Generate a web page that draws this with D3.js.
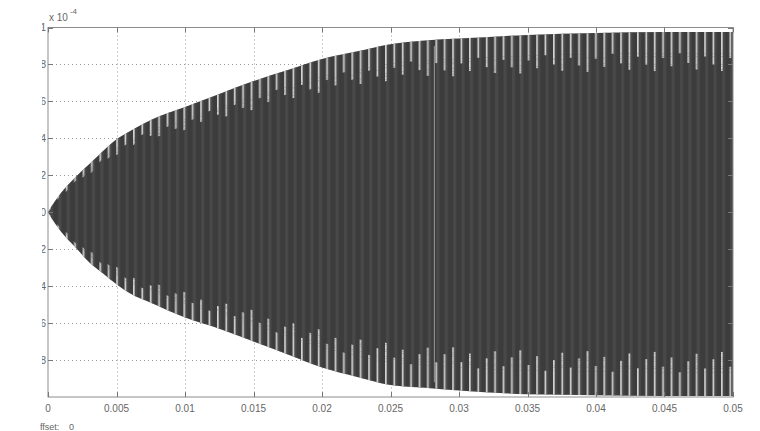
<!DOCTYPE html>
<html>
<head>
<meta charset="utf-8">
<script src="https://cdnjs.cloudflare.com/ajax/libs/d3/7.8.5/d3.min.js"></script>
<style>
body { margin: 0; background: #fff; }
text { font-family: "Liberation Sans", Arial, sans-serif; fill: #666; }
</style>
</head>
<body>
<script>
// time axis (s) and envelope of the signal, in units of 1e-4
var timeS = [0, 0.0005, 0.001, 0.002, 0.003, 0.004, 0.005, 0.006, 0.0075, 0.01, 0.0125, 0.015,
	0.0175, 0.02, 0.0225, 0.025, 0.0275, 0.03, 0.035, 0.04, 0.045, 0.05];
var upperAmp = [0, 0.06, 0.11, 0.19, 0.26, 0.33, 0.395, 0.44, 0.50, 0.57, 0.64, 0.71,
	0.77, 0.83, 0.87, 0.91, 0.93, 0.94, 0.96, 0.97, 0.975, 0.975];
var lowerAmp = [0, -0.06, -0.11, -0.19, -0.27, -0.33, -0.39, -0.44, -0.49, -0.57, -0.63, -0.70,
	-0.77, -0.84, -0.89, -0.935, -0.95, -0.965, -0.985, -0.99, -0.995, -0.995];

var xTicks = [0, 0.005, 0.01, 0.015, 0.02, 0.025, 0.03, 0.035, 0.04, 0.045, 0.05];
var xTickLabels = ["0", "0.005", "0.01", "0.015", "0.02", "0.025", "0.03", "0.035", "0.04", "0.045", "0.05"];
var yTicks = [1, 0.8, 0.6, 0.4, 0.2, 0, -0.2, -0.4, -0.6, -0.8];
var yTickLabels = ["1", "0.8", "0.6", "0.4", "0.2", "0", "-0.2", "-0.4", "-0.6", "-0.8"];

// single bright trace that runs through the whole band
var glitchTimes = [0.0282];

function main() {
	drawChart();
}

function drawChart() {
	var svg = d3.select('body').append('svg').attr('width', 760).attr('height', 431);
	var left = 48, right = 733, top = 27.5, bottom = 397;

	var x = d3.scaleLinear().domain([0, 0.05]).range([left, right]);
	var y = d3.scaleLinear().domain([-1, 1]).range([bottom, top]);
	var idx = d3.range(timeS.length);

	var defs = svg.append('defs');
	defs.append('clipPath').attr('id', 'plotClip')
		.append('rect').attr('x', left).attr('y', top)
		.attr('width', right - left).attr('height', bottom - top);
	defs.append('clipPath').attr('id', 'labelClip')
		.append('rect').attr('x', 42).attr('y', 0).attr('width', 760).attr('height', 431);
	defs.append('clipPath').attr('id', 'offsetClip')
		.append('rect').attr('x', 40).attr('y', 0).attr('width', 760).attr('height', 431);

	// faint vertical banding inside the dark region
	var tex = defs.append('pattern').attr('id', 'texture')
		.attr('patternUnits', 'userSpaceOnUse')
		.attr('x', left).attr('y', 0).attr('width', 8.4).attr('height', 431);
	tex.append('rect').attr('x', 2).attr('y', 0).attr('width', 3).attr('height', 431)
		.attr('fill', '#585858').attr('opacity', 0.45);

	// light gaps near the envelope edges, lengths as fraction of amplitude
	var gapLens = [0.24, 0.16, 0.21, 0.13, 0.19, 0.23, 0.15, 0.2];
	var period = 8.4;
	var levels = [0].concat(gapLens.slice().sort(d3.ascending));
	levels = levels.filter(function(v, i) { return i == 0 || v != levels[i - 1]; });

	for (var k = 0; k < levels.length - 1; k++) {
		var p = defs.append('pattern').attr('id', 'gap' + k)
			.attr('patternUnits', 'userSpaceOnUse')
			.attr('x', left + 1).attr('y', 0)
			.attr('width', period * gapLens.length).attr('height', 431);
		gapLens.forEach(function(len, j) {
			if (len > levels[k]) {
				p.append('rect').attr('x', j * period).attr('y', 0)
					.attr('width', 1.7).attr('height', 431).attr('fill', '#d2d2d2');
			}
		});
	}

	// grid
	var grid = svg.append('g').attr('stroke', '#9a9a9a').attr('stroke-width', 1)
		.attr('stroke-dasharray', '1,3');
	grid.selectAll('.vg').data(xTicks.slice(1, -1)).enter().append('line')
		.attr('x1', function(d) { return Math.round(x(d)) + 0.5; })
		.attr('x2', function(d) { return Math.round(x(d)) + 0.5; })
		.attr('y1', top).attr('y2', bottom);
	grid.selectAll('.hg').data(yTicks.slice(1)).enter().append('line')
		.attr('y1', function(d) { return Math.round(y(d)) + 0.5; })
		.attr('y2', function(d) { return Math.round(y(d)) + 0.5; })
		.attr('x1', left).attr('x2', right);

	var plot = svg.append('g').attr('clip-path', 'url(#plotClip)');

	var area = d3.area()
		.x(function(i) { return x(timeS[i]); })
		.y0(function(i) { return y(lowerAmp[i]); })
		.y1(function(i) { return y(upperAmp[i]); })
		.curve(d3.curveMonotoneX);

	plot.append('path').attr('d', area(idx)).attr('fill', '#3c3c3c');
	plot.append('path').attr('d', area(idx)).attr('fill', 'url(#texture)');

	// gap bands, top and bottom
	for (var k = 0; k < levels.length - 1; k++) {
		var f0 = levels[k], f1 = levels[k + 1];
		var topBand = d3.area()
			.x(function(i) { return x(timeS[i]); })
			.y0(function(i) { return y(upperAmp[i] * (1 - f1 * 0.9)); })
			.y1(function(i) { return y(upperAmp[i] * (1 - f0 * 0.9)); })
			.curve(d3.curveMonotoneX);
		var botBand = d3.area()
			.x(function(i) { return x(timeS[i]); })
			.y0(function(i) { return y(lowerAmp[i] * (1 - f1)); })
			.y1(function(i) { return y(lowerAmp[i] * (1 - f0)); })
			.curve(d3.curveMonotoneX);
		plot.append('path').attr('d', topBand(idx)).attr('fill', 'url(#gap' + k + ')');
		plot.append('path').attr('d', botBand(idx)).attr('fill', 'url(#gap' + k + ')');
	}

	plot.selectAll('.glitch').data(glitchTimes).enter().append('line')
		.attr('x1', function(d) { return x(d); })
		.attr('x2', function(d) { return x(d); })
		.attr('y1', y(0.9)).attr('y2', y(-0.92))
		.attr('stroke', '#9c9c9c').attr('stroke-width', 1);

	// frame and ticks
	svg.append('rect').attr('x', left).attr('y', top)
		.attr('width', right - left).attr('height', bottom - top)
		.attr('fill', 'none').attr('stroke', '#8c8c8c').attr('stroke-width', 1);

	var ticks = svg.append('g').attr('stroke', '#777').attr('stroke-width', 1);
	xTicks.forEach(function(d) {
		var px = Math.round(x(d)) + 0.5;
		ticks.append('line').attr('x1', px).attr('x2', px).attr('y1', bottom).attr('y2', bottom - 5);
		ticks.append('line').attr('x1', px).attr('x2', px).attr('y1', top).attr('y2', top + 5);
	});
	yTicks.forEach(function(d) {
		var py = Math.round(y(d)) + 0.5;
		ticks.append('line').attr('x1', left).attr('x2', left + 5).attr('y1', py).attr('y2', py);
		ticks.append('line').attr('x1', right).attr('x2', right - 5).attr('y1', py).attr('y2', py);
	});

	svg.append('g').selectAll('text').data(xTicks).enter().append('text')
		.attr('x', function(d) { return x(d); })
		.attr('y', 412)
		.attr('text-anchor', 'middle')
		.attr('font-size', 10)
		.text(function(d, i) { return xTickLabels[i]; });

	svg.append('g').attr('clip-path', 'url(#labelClip)')
		.selectAll('text').data(yTicks).enter().append('text')
		.attr('x', 46)
		.attr('y', function(d) { return y(d) + 3.5; })
		.attr('text-anchor', 'end')
		.attr('font-size', 10)
		.text(function(d, i) { return yTickLabels[i]; });

	var mult = svg.append('text').attr('x', 49).attr('y', 21).attr('font-size', 10);
	mult.append('tspan').text('x 10');
	mult.append('tspan').attr('dx', 2).attr('dy', -7).attr('font-size', 8).text('-4');

	svg.append('g').attr('clip-path', 'url(#offsetClip)')
		.append('text').attr('x', 33).attr('y', 430).attr('font-size', 9)
		.text('Offset:');
	svg.append('text').attr('x', 69).attr('y', 430).attr('font-size', 9).text('0');
}

main();
</script>
</body>
</html>
